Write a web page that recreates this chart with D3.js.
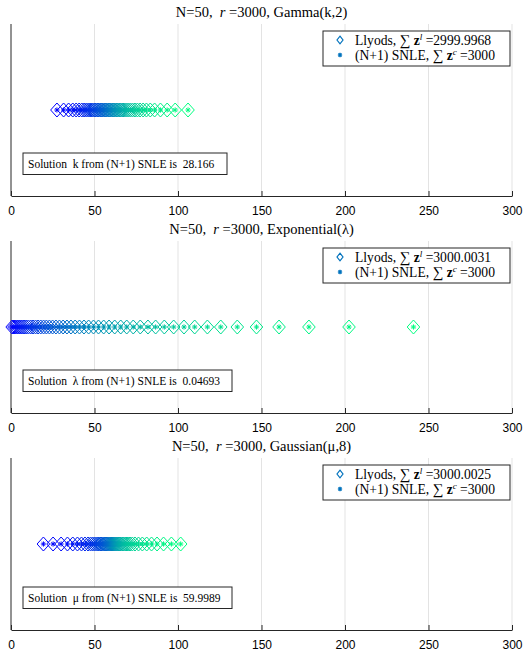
<!DOCTYPE html>
<html>
<head>
<meta charset="utf-8">
<script src="https://cdn.jsdelivr.net/npm/d3@7"></script>
<style>
  body { margin: 0; background: #fff; }
  text { fill: #000; white-space: pre; }
</style>
</head>
<body>
<div id="chart"></div>
<script>
// quantizer levels (50 each)
const gammaLevels = [27.5, 31.5, 34.5, 37, 39, 40.8, 42.4, 43.8, 45.1, 46.3,
  47.4, 48.4, 49.4, 50.3, 51.2, 52.1, 53, 53.8, 54.6, 55.4,
  56.2, 57, 57.8, 58.6, 59.4, 60.2, 61, 61.8, 62.6, 63.4,
  64.3, 65.2, 66.1, 67.1, 68.1, 69.2, 70.3, 71.5, 72.8, 74.2,
  75.7, 77.3, 79.1, 81.1, 83.4, 86, 89.5, 93.5, 98.3, 106];
const expLevels = [0.7, 1.8, 2.9, 4.1, 5.3, 6.5, 7.8, 9.1, 10.4, 11.8,
  13.2, 14.7, 16.2, 17.8, 19.5, 21.2, 23, 24.9, 26.9, 29,
  31.2, 33.5, 35.9, 38.4, 41, 43.7, 46.5, 49.4, 52.4, 55.5,
  58.7, 62.1, 65.7, 69.3, 73.2, 77.4, 82, 86.6, 91.8, 97.4,
  103.6, 110, 117.6, 125.6, 135.5, 147, 160.5, 178.4, 202.4, 241];
const gaussLevels = [19.4, 25.2, 30.0, 33.8, 37.0, 39.8, 42.2, 44.3, 46.1, 47.6,
  48.9, 50.1, 51.2, 52.2, 53.1, 53.9, 54.7, 55.5, 56.2, 56.9,
  57.6, 58.3, 58.9, 59.5, 60.0, 60.45, 60.95, 61.5, 62.05, 62.65,
  63.25, 63.9, 64.6, 65.35, 66.15, 67.0, 67.9, 68.9, 70.0, 71.25,
  72.65, 74.25, 76.35, 78.65, 81.25, 84.15, 87.45, 91.35, 96.05, 101.6];

const levels = [gammaLevels, expLevels, gaussLevels];
const distNames = ["Gamma(k,2)", "Exponential(\u03BB)", "Gaussian(\u03BC,8)"];
const lloydSums = ["2999.9968", "3000.0031", "3000.0025"];
const snleSums = ["3000", "3000", "3000"];
const solParams = ["k", "\u03BB", "\u03BC"];
const solValues = ["28.166", "0.04693", "59.9989"];
const xTicks = [0, 50, 100, 150, 200, 250, 300];

const width = 528, height = 658;
const tops = [24, 241, 458];
const ph = 172;
const serif = "'Liberation Serif', 'Times New Roman', serif";

const svg = d3.select("#chart").append("svg")
  .attr("width", width)
  .attr("height", height);

const x = d3.scaleLinear().domain([0, 300]).range([11, 512]);
const y = d3.scaleLinear().domain([-1, 1]).range([ph, 0]);

// matlab winter colormap
const winter = t => d3.rgb(0, 255 * t, 255 * (1 - 0.5 * t)).toString();

const diamond = (w, h) => `M0,${-h}L${w},0L0,${h}L${-w},0Z`;
const star = r => {
  const d = r * 0.7071;
  return `M${-r},0L${r},0M0,${-r}L0,${r}M${-d},${-d}L${d},${d}M${-d},${d}L${d},${-d}`;
};

levels.forEach((vals, p) => {
  const g = svg.append("g").attr("transform", `translate(0,${tops[p]})`);

  // title
  const t = g.append("text")
    .attr("x", 261.5).attr("y", -7)
    .attr("text-anchor", "middle")
    .style("font-family", serif).style("font-size", "14.5px");
  t.append("tspan").text("N=50,  ");
  t.append("tspan").style("font-style", "italic").text("r");
  t.append("tspan").text(" =3000, " + distNames[p]);

  // grid
  g.selectAll("line.grid").data(xTicks.slice(1)).enter().append("line")
    .attr("x1", d => x(d)).attr("x2", d => x(d))
    .attr("y1", 0).attr("y2", ph)
    .attr("stroke", "#e3e3e3").attr("stroke-width", 1);

  // axes
  const ax = g.append("g").attr("transform", `translate(0,${ph})`)
    .call(d3.axisBottom(x).tickValues(xTicks).tickSizeInner(-5).tickSizeOuter(0).tickPadding(10));
  ax.select(".domain").attr("stroke", "#262626");
  ax.selectAll(".tick line").attr("stroke", "#262626");
  ax.selectAll(".tick text")
    .style("font-family", "'Liberation Sans', Arial, sans-serif")
    .style("font-size", "12px").attr("fill", "#262626");

  g.append("line")
    .attr("x1", x(0)).attr("x2", x(0)).attr("y1", 0).attr("y2", ph)
    .attr("stroke", "#262626");

  // lloyd diamonds
  g.selectAll("path.lloyd").data(vals).enter().append("path")
    .attr("d", diamond(6.3, 7))
    .attr("transform", d => `translate(${x(d)},${y(0)})`)
    .attr("fill", "none")
    .attr("stroke", (d, i) => winter(i / (vals.length - 1)))
    .attr("stroke-width", 1);

  // snle stars
  g.selectAll("path.snle").data(vals).enter().append("path")
    .attr("d", star(2.6))
    .attr("transform", d => `translate(${x(d)},${y(0)})`)
    .attr("fill", "none")
    .attr("stroke", (d, i) => winter(i / (vals.length - 1)))
    .attr("stroke-width", 1);

  // legend
  const lg = g.append("g").attr("transform", "translate(323,7)");
  lg.append("rect").attr("width", 187).attr("height", 35)
    .attr("fill", "#fff").attr("stroke", "#262626").attr("stroke-width", 1);
  const legRows = [
    { label: "Llyods, ", sup: "l", val: lloydSums[p], shape: "d" },
    { label: "(N+1) SNLE, ", sup: "c", val: snleSums[p], shape: "s" }
  ];
  legRows.forEach((r, k) => {
    const cy = 9 + k * 15;
    lg.append("path")
      .attr("d", r.shape === "d" ? diamond(3, 3.8) : star(2.2))
      .attr("transform", `translate(17,${cy})`)
      .attr("fill", "none").attr("stroke", "#0072bd").attr("stroke-width", 1.2);
    const tx = lg.append("text").attr("x", 32).attr("y", cy + 4.5)
      .style("font-family", serif).style("font-size", "13.6px");
    tx.append("tspan").text(r.label);
    tx.append("tspan").style("font-size", "15px").text("\u2211");
    tx.append("tspan").text(" ");
    tx.append("tspan").style("font-weight", "bold").text("z");
    tx.append("tspan").attr("dy", -5).style("font-size", "9px").style("font-style", "italic").text(r.sup);
    tx.append("tspan").attr("dy", 5).text(" =" + r.val);
  });

  // solution box
  const sb = g.append("g").attr("transform", "translate(23,129)");
  sb.append("rect").attr("width", 204 + (p > 0 ? 5 : 0)).attr("height", 21.5)
    .attr("fill", "#fff").attr("stroke", "#262626").attr("stroke-width", 1);
  sb.append("text").attr("x", 5).attr("y", 14.5)
    .style("font-family", serif).style("font-size", "11.5px")
    .text("Solution  " + solParams[p] + " from (N+1) SNLE is  " + solValues[p]);
});
</script>
</body>
</html>
